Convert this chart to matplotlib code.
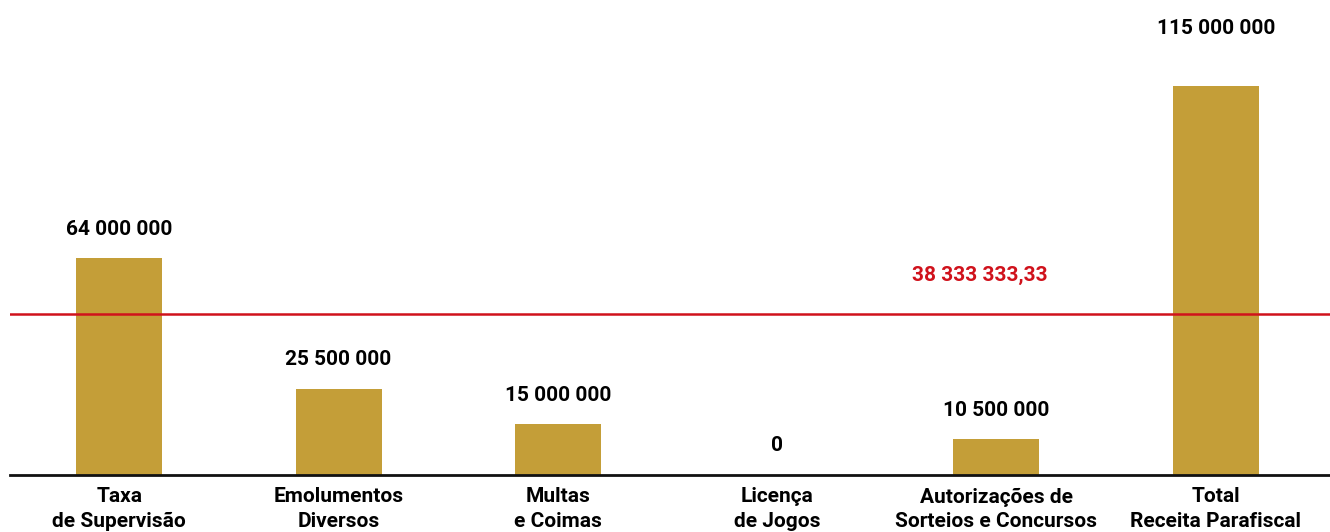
import matplotlib
matplotlib.use('Agg')
from matplotlib import pyplot as plt
from matplotlib import transforms

plt.rcParams['font.family'] = ['Roboto', 'DejaVu Sans']

categories = ['Taxa\nde Supervisão', 'Emolumentos\nDiversos', 'Multas\ne Coimas',
              'Licença\nde Jogos', 'Autorizações de\nSorteios e Concursos',
              'Total\nReceita Parafiscal']
values = [64000000, 25500000, 15000000, 0, 10500000, 115000000]
value_labels = ['64 000 000', '25 500 000', '15 000 000', '0', '10 500 000', '115 000 000']

media_line = 47500000          # where the red line sits in the picture
media_label = '38 333 333,33'

bar_color = '#c49e38'
red = '#d0121c'

fig = plt.figure(figsize=(13.3, 5.32), dpi=100)
ax = fig.add_axes([10 / 1330, 57 / 532, 1320 / 1330, 475 / 532])

x = list(range(len(categories)))
ax.bar(x, values, width=0.392, color=bar_color, zorder=2)

for i, v in enumerate(values):
    off = 41 if i == len(values) - 1 else 21
    ax.annotate(value_labels[i], (i, v), xytext=(0, off), textcoords='offset points',
                ha='center', va='center', fontsize=15, fontweight='bold', color='black')

ax.axhline(media_line, color=red, linewidth=1.8, zorder=3)
trans = transforms.blended_transform_factory(ax.transAxes, ax.transData)
ax.annotate(media_label, (0.735, media_line), xycoords=trans, xytext=(0, 28),
            textcoords='offset points', ha='center', va='center',
            fontsize=15, fontweight='bold', color=red)

ax.set_xlim(-0.498, 5.521)
ax.set_ylim(0, 140400000)
ax.set_xticks(x)
ax.set_xticklabels(categories, fontsize=15, fontweight='bold', linespacing=1.38)
ax.tick_params(axis='x', length=0, pad=9)
ax.set_yticks([])
for s in ['top', 'right', 'left']:
    ax.spines[s].set_visible(False)
ax.spines['bottom'].set_linewidth(2)
ax.spines['bottom'].set_color('#111111')

fig.savefig('out.png', dpi=100)
